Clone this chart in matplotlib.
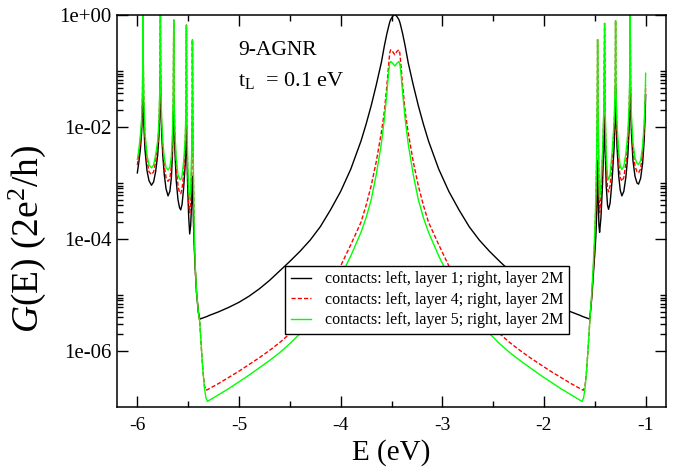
import numpy as np
import matplotlib
matplotlib.use("Agg")
import matplotlib.pyplot as plt
from matplotlib.ticker import FixedLocator, MultipleLocator, NullFormatter

plt.rcParams['font.family'] = ['Liberation Serif', 'DejaVu Serif']
plt.rcParams['mathtext.fontset'] = 'custom'
plt.rcParams['mathtext.rm'] = 'Liberation Serif'
plt.rcParams['mathtext.it'] = 'Liberation Serif:italic'

# energy grid (eV)
energy = [
    -6.000, -5.985, -5.970, -5.958, -5.950, -5.946, -5.944, -5.941, -5.936, -5.925,
    -5.905, -5.885, -5.861, -5.840, -5.820, -5.800, -5.787, -5.779, -5.773, -5.769,
    -5.762, -5.750, -5.735, -5.718, -5.698, -5.680, -5.665, -5.655, -5.647, -5.642,
    -5.638, -5.630, -5.618, -5.600, -5.585, -5.573, -5.560, -5.545, -5.530, -5.522,
    -5.517, -5.513, -5.505, -5.495, -5.485, -5.475, -5.466, -5.460, -5.458, -5.454,
    -5.448, -5.440, -5.430, -5.418, -5.400, -5.386, -5.370, -5.355, -5.340, -5.325,
    -5.310, -5.300, -5.200, -5.100, -5.000, -4.900, -4.800, -4.700, -4.600, -4.500,
    -4.400, -4.300, -4.200, -4.100, -4.000, -3.900, -3.800, -3.750, -3.700, -3.650,
    -3.600, -3.570, -3.545, -3.528, -3.518, -3.508, -3.490, -3.468, -3.446, -3.428,
    -3.418, -3.408, -3.391, -3.366, -3.336, -3.286, -3.236, -3.186, -3.136, -3.036,
    -2.936, -2.836, -2.736, -2.636, -2.536, -2.436, -2.336, -2.236, -2.136, -2.036,
    -1.936, -1.836, -1.736, -1.636, -1.626, -1.611, -1.596, -1.581, -1.566, -1.550,
    -1.530, -1.515, -1.500, -1.490, -1.482, -1.476, -1.473, -1.468, -1.460, -1.453,
    -1.440, -1.425, -1.412, -1.404, -1.398, -1.388, -1.375, -1.365, -1.350, -1.330,
    -1.310, -1.300, -1.296, -1.292, -1.282, -1.265, -1.250, -1.234, -1.215, -1.195,
    -1.175, -1.162, -1.155, -1.152, -1.148, -1.140, -1.125, -1.105, -1.085, -1.070,
    -1.050, -1.030, -1.015, -1.005, -1.000,
]

# log10 G(E) for the three contact setups
logg_layer1 = [
    -2.82, -2.62, -2.40, -2.10, -1.75, -1.45, -1.21, -1.55, -1.95, -2.40,
    -2.78, -2.96, -3.04, -2.98, -2.80, -2.50, -2.15, -1.70, -1.10, -1.60,
    -2.05, -2.50, -2.85, -3.10, -3.23, -3.15, -2.90, -2.50, -2.00, -1.51,
    -1.95, -2.45, -2.95, -3.30, -3.44, -3.48, -3.38, -3.10, -2.70, -2.35,
    -2.01, -2.45, -3.05, -3.60, -3.91, -3.75, -3.35, -3.00, -2.88, -3.20,
    -3.70, -4.15, -4.55, -4.95, -5.30, -5.43, -5.42, -5.41, -5.40, -5.39,
    -5.38, -5.37, -5.30, -5.22, -5.13, -5.02, -4.89, -4.74, -4.57, -4.40,
    -4.22, -4.02, -3.78, -3.48, -3.15, -2.75, -2.25, -1.95, -1.62, -1.25,
    -0.85, -0.55, -0.33, -0.20, -0.13, -0.08, -0.03, 0.02, -0.03, -0.08,
    -0.13, -0.20, -0.33, -0.55, -0.85, -1.25, -1.62, -1.95, -2.25, -2.75,
    -3.15, -3.48, -3.78, -4.02, -4.22, -4.40, -4.57, -4.74, -4.89, -5.02,
    -5.13, -5.22, -5.30, -5.37, -5.38, -5.39, -5.40, -5.41, -5.42, -5.43,
    -5.05, -4.65, -4.25, -3.95, -3.55, -3.00, -2.60, -3.20, -3.75, -3.88,
    -3.62, -3.05, -2.35, -1.81, -2.40, -3.05, -3.40, -3.47, -3.36, -2.95,
    -2.35, -1.80, -1.30, -1.80, -2.35, -2.88, -3.13, -3.23, -3.15, -2.90,
    -2.50, -2.00, -1.55, -1.16, -1.60, -2.10, -2.60, -2.88, -3.00, -3.02,
    -2.92, -2.65, -2.25, -1.80, -1.42,
]
logg_layer4 = [
    -2.68, -2.50, -2.25, -1.95, -1.50, -0.80, 0.00, -0.90, -1.60, -2.20,
    -2.60, -2.80, -2.85, -2.80, -2.62, -2.35, -2.00, -1.40, 0.00, -1.30,
    -1.90, -2.35, -2.70, -2.90, -2.97, -2.92, -2.70, -2.30, -1.60, -0.09,
    -1.60, -2.20, -2.70, -3.05, -3.17, -3.19, -3.10, -2.85, -2.40, -1.80,
    -0.18, -1.90, -2.80, -3.35, -3.53, -3.35, -2.70, -1.60, -0.44, -1.80,
    -3.00, -4.00, -4.55, -4.95, -5.30, -5.48, -5.95, -6.35, -6.62, -6.70,
    -6.69, -6.68, -6.58, -6.47, -6.36, -6.24, -6.12, -5.99, -5.85, -5.69,
    -5.51, -5.30, -5.06, -4.79, -4.48, -4.10, -3.70, -3.40, -3.05, -2.62,
    -2.10, -1.72, -1.25, -0.88, -0.68, -0.62, -0.65, -0.71, -0.65, -0.62,
    -0.68, -0.88, -1.25, -1.72, -2.10, -2.62, -3.05, -3.40, -3.70, -4.10,
    -4.48, -4.79, -5.06, -5.30, -5.51, -5.69, -5.85, -5.99, -6.12, -6.24,
    -6.36, -6.47, -6.58, -6.68, -6.69, -6.70, -6.62, -6.35, -5.95, -5.48,
    -5.00, -4.55, -4.00, -3.40, -2.60, -1.60, -0.44, -1.80, -3.00, -3.53,
    -3.22, -2.62, -1.80, -0.15, -1.80, -2.70, -3.10, -3.16, -3.05, -2.62,
    -2.00, -1.40, -0.10, -1.40, -2.10, -2.65, -2.90, -2.97, -2.90, -2.65,
    -2.25, -1.70, -1.00, 0.00, -1.20, -1.90, -2.40, -2.70, -2.80, -2.82,
    -2.75, -2.45, -2.05, -1.60, -1.25,
]
logg_layer5 = [
    -2.58, -2.40, -2.15, -1.85, -1.40, -0.75, 0.00, -0.85, -1.50, -2.10,
    -2.50, -2.68, -2.73, -2.68, -2.50, -2.25, -1.90, -1.30, 0.00, -1.20,
    -1.80, -2.25, -2.55, -2.72, -2.77, -2.72, -2.52, -2.15, -1.50, -0.09,
    -1.50, -2.10, -2.55, -2.85, -2.93, -2.94, -2.87, -2.62, -2.25, -1.70,
    -0.18, -1.80, -2.60, -3.15, -3.29, -3.10, -2.50, -1.50, -0.44, -1.70,
    -2.90, -3.90, -4.50, -4.93, -5.30, -5.48, -5.95, -6.35, -6.66, -6.84,
    -6.90, -6.89, -6.78, -6.67, -6.55, -6.43, -6.30, -6.17, -6.03, -5.87,
    -5.69, -5.48, -5.25, -4.98, -4.67, -4.30, -3.88, -3.62, -3.30, -2.85,
    -2.30, -1.85, -1.38, -1.02, -0.87, -0.83, -0.86, -0.91, -0.86, -0.83,
    -0.87, -1.02, -1.38, -1.85, -2.30, -2.85, -3.30, -3.62, -3.88, -4.30,
    -4.67, -4.98, -5.25, -5.48, -5.69, -5.87, -6.03, -6.17, -6.30, -6.43,
    -6.55, -6.67, -6.78, -6.89, -6.90, -6.84, -6.66, -6.35, -5.95, -5.48,
    -4.95, -4.45, -3.85, -3.25, -2.45, -1.50, -0.44, -1.70, -2.85, -3.30,
    -3.00, -2.45, -1.70, -0.15, -1.70, -2.50, -2.88, -2.94, -2.85, -2.45,
    -1.90, -1.30, -0.10, -1.30, -1.95, -2.45, -2.70, -2.76, -2.70, -2.48,
    -2.10, -1.60, -0.90, 0.00, -1.10, -1.80, -2.28, -2.55, -2.65, -2.67,
    -2.60, -2.35, -1.95, -1.50, -1.04,
]

labels = [
    "contacts: left, layer 1; right, layer 2M",
    "contacts: left, layer 4; right, layer 2M",
    "contacts: left, layer 5; right, layer 2M",
]
y_ticks = [1e0, 1e-2, 1e-4, 1e-6]
y_ticklabels = ["1e+00", "1e-02", "1e-04", "1e-06"]
x_ticks = [-6, -5, -4, -3, -2, -1]

E = np.array(energy)
g1 = 10.0 ** np.array(logg_layer1)
g4 = 10.0 ** np.array(logg_layer4)
g5 = 10.0 ** np.array(logg_layer5)

fig = plt.figure(figsize=(6.78, 4.74), dpi=100)
ax = fig.add_axes([117/678, 1-407/474, 549/678, 392/474])

ax.plot(E, g1, color="black", lw=1.0, label=labels[0])
ax.plot(E, g4, color="#ff0000", lw=1.0, dashes=(3, 1.5), label=labels[1])
ax.plot(E, g5, color="#00ff00", lw=1.0, label=labels[2])

ax.set_yscale("log")
ax.set_xlim(-6.2, -0.8)
ax.set_ylim(1e-7, 1e0)

ax.xaxis.set_major_locator(FixedLocator(x_ticks))
ax.set_xticklabels([str(t) for t in x_ticks])
ax.xaxis.set_minor_locator(MultipleLocator(0.5))
ax.yaxis.set_major_locator(FixedLocator(y_ticks))
ax.set_yticklabels(y_ticklabels)
ax.yaxis.set_minor_locator(FixedLocator([k * 10.0**e for e in (-2, -4, -6) for k in range(2, 11)]))
ax.yaxis.set_minor_formatter(NullFormatter())

ax.tick_params(which="both", direction="in", top=True, right=True, width=1.0)
ax.tick_params(which="major", length=8)
ax.tick_params(which="minor", length=4.5)
ax.tick_params(axis="x", pad=7, labelsize=14)
ax.tick_params(axis="y", pad=4, labelsize=15)
for s in ax.spines.values():
    s.set_linewidth(1.1)

ax.set_xlabel("E (eV)", fontsize=21, labelpad=4)
ax.set_ylabel(r"$G$(E) (2e$^2$/h)", fontsize=27)
ax.yaxis.set_label_coords(-0.125, 0.43)

ax.text(0.22, 0.898, "9-AGNR", transform=ax.transAxes, fontsize=15.5, va="baseline")
ax.text(0.22, 0.819, r"t$_\mathrm{L}$  = 0.1 eV", transform=ax.transAxes, fontsize=16, va="baseline")

leg = ax.legend(loc="upper left", bbox_to_anchor=(0.306, 0.36), borderaxespad=0,
                fontsize=11.5, handlelength=1.3, handletextpad=0.85, labelspacing=0.28,
                borderpad=0.35, fancybox=False, framealpha=1, edgecolor="black")
leg.get_frame().set_linewidth(1.0)

fig.savefig("out.png", dpi=100)
